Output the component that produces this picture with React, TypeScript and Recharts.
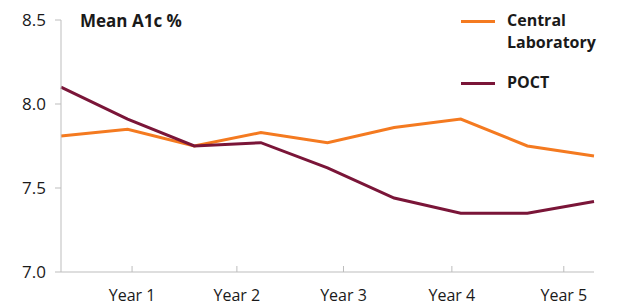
import { LineChart, Line, XAxis, YAxis } from "recharts";

// months since start for each measurement
const months = [4, 11.5, 19, 26.5, 34, 41.5, 49, 56.5, 64];
const centralLab = [7.81, 7.85, 7.75, 7.83, 7.77, 7.86, 7.91, 7.75, 7.69];
const poct = [8.1, 7.91, 7.75, 7.77, 7.62, 7.44, 7.35, 7.35, 7.42];

const yearTicks = [12, 23.8, 35.8, 48, 60.6];
const yearLabels = ["Year 1", "Year 2", "Year 3", "Year 4", "Year 5"];
const yTicks = [7.0, 7.5, 8.0, 8.5];

const seriesNames = ["Central Laboratory", "POCT"];
const seriesColors = ["#F47A20", "#7A1538"];

const data = months.map((m, i) => ({
	month: m,
	central: centralLab[i],
	poct: poct[i],
}));

const font = "'Open Sans', sans-serif";
const axisGrey = "#BDBDBD";

const LegendBox = () => (
	<div
		style={{
			position: "absolute",
			left: 461,
			top: 9,
			fontFamily: font,
			fontWeight: 700,
			fontSize: 16,
			color: "#1a1a1a",
		}}
	>
		<div style={{ display: "flex", alignItems: "flex-start" }}>
			<div style={{ width: 34, height: 3, background: seriesColors[0], marginTop: 11, marginRight: 12 }} />
			<div style={{ lineHeight: "22px" }}>
				Central
				<br />
				Laboratory
			</div>
		</div>
		<div style={{ display: "flex", alignItems: "flex-start", marginTop: 18 }}>
			<div style={{ width: 34, height: 3, background: seriesColors[1], marginTop: 11, marginRight: 12 }} />
			<div style={{ lineHeight: "22px" }}>{seriesNames[1]}</div>
		</div>
	</div>
);

export default function App() {
	return (
		<div style={{ position: "fixed", left: 0, top: 0, width: 623, height: 306, background: "#fff" }}>
			<LineChart width={623} height={306} data={data} margin={{ top: 20, right: 29, bottom: 0, left: 0 }}>
				<XAxis
					dataKey="month"
					type="number"
					domain={[4, 64]}
					ticks={yearTicks}
					tickFormatter={(v: number) => yearLabels[yearTicks.indexOf(v)]}
					height={34}
					tickSize={-6}
					tickMargin={24}
					axisLine={{ stroke: axisGrey }}
					tickLine={{ stroke: axisGrey }}
					tick={{ fill: "#1a1a1a", fontSize: 16, fontFamily: font }}
					interval={0}
				/>
				<YAxis
					domain={[7, 8.5]}
					ticks={yTicks}
					width={61}
					tickSize={6}
					tickMargin={9}
					tickFormatter={(v: number) => v.toFixed(1)}
					axisLine={{ stroke: axisGrey }}
					tickLine={{ stroke: axisGrey }}
					tick={{ fill: "#1a1a1a", fontSize: 17, fontFamily: font }}
				/>
				<Line
					dataKey="central"
					name={seriesNames[0]}
					stroke={seriesColors[0]}
					strokeWidth={3}
					dot={false}
					isAnimationActive={false}
				/>
				<Line
					dataKey="poct"
					name={seriesNames[1]}
					stroke={seriesColors[1]}
					strokeWidth={3}
					dot={false}
					isAnimationActive={false}
				/>
			</LineChart>
			<div
				style={{
					position: "absolute",
					left: 80,
					top: 9,
					fontFamily: font,
					fontWeight: 700,
					fontSize: 17,
					color: "#1a1a1a",
				}}
			>
				Mean A1c %
			</div>
			<LegendBox />
		</div>
	);
}
